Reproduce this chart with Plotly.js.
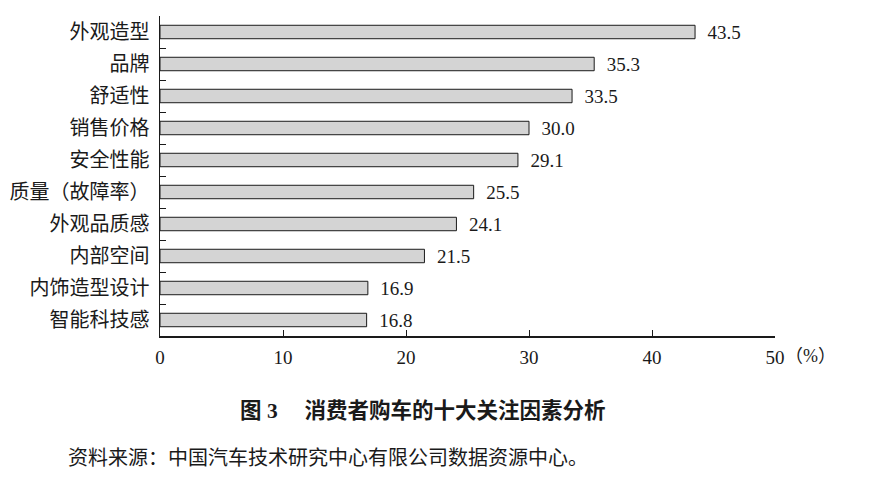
<!DOCTYPE html>
<html>
<head>
<meta charset="utf-8">
<script src="https://cdn.plot.ly/plotly-3.0.1.min.js"></script>
<style>
  body { margin: 0; background: #fff; }
  #chart { width: 869px; height: 487px; }
</style>
</head>
<body>
<div id="chart"></div>
<script>
const factors = [
  "外观造型",
  "品牌",
  "舒适性",
  "销售价格",
  "安全性能",
  "质量（故障率）",
  "外观品质感",
  "内部空间",
  "内饰造型设计",
  "智能科技感",
];
const shares = [43.5, 35.3, 33.5, 30.0, 29.1, 25.5, 24.1, 21.5, 16.9, 16.8];
const tickVals = [0, 10, 20, 30, 40, 50];
const tickLabels = ["0", "10", "20", "30", "40", "50"];

const chartTitle = "图 3　 消费者购车的十大关注因素分析";
const sourceNote = "资料来源：中国汽车技术研究中心有限公司数据资源中心。";

const serif = "'Liberation Serif', 'Noto Sans CJK SC', serif";

var data = [
  {
    type: "bar",
    orientation: "h",
    x: shares,
    y: factors,
    width: 0.42,
    marker: {
      color: "#d4d4d4",
      line: { color: "#1a1a1a", width: 1 },
    },
    // en space keeps the label clear of the bar end like the print version
    text: shares.map((v) => "\u2002" + v.toFixed(1)),
    textposition: "outside",
    constraintext: "none",
    cliponaxis: false,
    textfont: { family: serif, size: 19, color: "#1a1a1a" },
    hoverinfo: "skip",
  },
];

var layout = {
  width: 869,
  height: 487,
  margin: { l: 160, r: 94, t: 16, b: 151 },
  paper_bgcolor: "#fff",
  plot_bgcolor: "#fff",
  showlegend: false,
  font: { family: serif, color: "#1a1a1a" },
  xaxis: {
    range: [0, 50],
    tickvals: tickVals,
    ticktext: tickLabels,
    ticks: "inside",
    ticklen: 6,
    tickcolor: "#1a1a1a",
    showline: true,
    linecolor: "#1a1a1a",
    linewidth: 1.5,
    showgrid: false,
    zeroline: false,
    ticklabelstandoff: 4,
    tickfont: { family: serif, size: 19, color: "#1a1a1a" },
    fixedrange: true,
  },
  yaxis: {
    autorange: "reversed",
    tickson: "boundaries",
    ticks: "inside",
    ticklen: 6,
    tickcolor: "#1a1a1a",
    showline: true,
    linecolor: "#1a1a1a",
    linewidth: 1.5,
    showgrid: false,
    zeroline: false,
    ticklabelstandoff: 5,
    tickfont: { family: serif, size: 20, color: "#1a1a1a" },
    fixedrange: true,
  },
  annotations: [
    {
      text: "（%）",
      xref: "x",
      yref: "paper",
      x: 50,
      y: 0,
      xanchor: "left",
      yanchor: "middle",
      xshift: 8,
      yshift: -20,
      showarrow: false,
      font: { family: serif, size: 18, color: "#1a1a1a" },
    },
    {
      text: "<b>" + chartTitle + "</b>",
      xref: "paper",
      yref: "paper",
      x: 0.428,
      y: 0,
      xanchor: "center",
      yanchor: "middle",
      yshift: -75,
      showarrow: false,
      font: { family: serif, size: 21.5, color: "#1a1a1a" },
    },
    {
      text: sourceNote,
      xref: "paper",
      yref: "paper",
      x: -0.153,
      y: 0,
      xanchor: "left",
      yanchor: "middle",
      yshift: -122,
      showarrow: false,
      font: { family: serif, size: 20, color: "#1a1a1a" },
    },
  ],
};

Plotly.newPlot("chart", data, layout, { displayModeBar: false, staticPlot: true });
</script>
</body>
</html>
